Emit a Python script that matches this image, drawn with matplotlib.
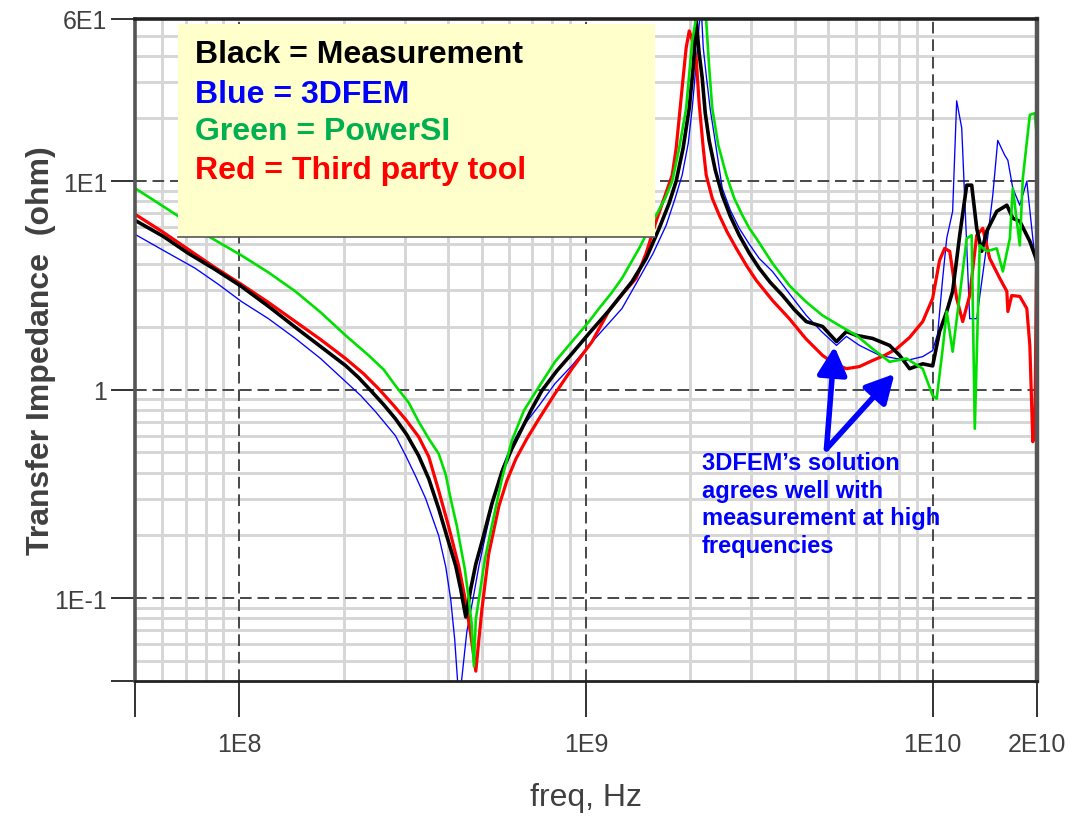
import matplotlib
matplotlib.use("Agg")
import matplotlib.pyplot as plt
from matplotlib.patches import Rectangle
from matplotlib.ticker import FixedLocator, NullFormatter, LogLocator

# ---- data: transfer impedance (ohm) vs frequency (Hz) ----
black_f = [5.0e7, 6.03e7, 7.12e7, 8.41e7, 1.013e8, 1.213e8, 1.451e8, 1.715e8, 2.025e8, 2.208e8,
           2.41e8, 2.608e8, 2.82e8, 3.04e8, 3.29e8, 3.52e8, 3.76e8, 3.99e8, 4.21e8, 4.35e8,
           4.50e8, 4.65e8, 4.81e8, 5.01e8, 5.35e8, 5.72e8, 6.11e8, 6.53e8, 6.98e8, 7.46e8,
           8.25e8, 9.11e8, 1.02e9, 1.166e9, 1.358e9, 1.491e9, 1.626e9, 1.737e9, 1.82e9, 1.906e9,
           1.985e9, 2.038e9, 2.08e9, 2.12e9, 2.164e9, 2.208e9, 2.267e9, 2.36e9, 2.472e9, 2.608e9,
           2.768e9, 2.96e9, 3.16e9, 3.40e9, 3.69e9, 3.99e9, 4.32e9, 4.81e9, 5.28e9, 5.64e9,
           6.03e9, 6.71e9, 7.51e9, 8.03e9, 8.58e9, 9.36e9, 1.0e10, 1.047e10, 1.098e10, 1.142e10,
           1.197e10, 1.254e10, 1.296e10, 1.34e10, 1.385e10, 1.432e10, 1.531e10, 1.637e10, 1.703e10, 1.784e10,
           1.907e10, 2.0e10]
black_z = [6.49, 5.44, 4.51, 3.82, 3.13, 2.51, 1.99, 1.61, 1.304, 1.142,
           0.978, 0.847, 0.725, 0.608, 0.482, 0.373, 0.268, 0.192, 0.1425, 0.1105,
           0.0811, 0.1105, 0.1457, 0.186, 0.283, 0.403, 0.520, 0.649, 0.810, 0.989,
           1.234, 1.49, 1.86, 2.40, 3.30, 4.26, 5.94, 7.84, 10.0, 14.4,
           22.4, 34.9, 58.8, 41.2, 31.3, 21.2, 15.6, 11.3, 8.57, 6.79,
           5.5, 4.51, 3.82, 3.27, 2.83, 2.42, 2.12, 2.01, 1.70, 1.90,
           1.82, 1.76, 1.63, 1.46, 1.26, 1.33, 1.30, 1.90, 2.37, 2.96,
           5.5, 9.57, 9.57, 5.94, 4.61, 5.75, 7.17, 7.67, 6.64, 6.42,
           5.15, 4.12]

blue_f = [5.0e7, 6.03e7, 7.46e7, 8.70e7, 1.013e8, 1.213e8, 1.451e8, 1.715e8, 2.025e8, 2.24e8,
          2.47e8, 2.64e8, 2.82e8, 3.02e8, 3.23e8, 3.45e8, 3.76e8, 3.94e8, 4.07e8, 4.18e8,
          4.27e8, 4.32e8, 4.38e8, 4.53e8, 4.72e8, 4.91e8, 5.14e8, 5.42e8, 5.72e8, 6.03e8,
          6.40e8, 6.84e8, 7.32e8, 8.14e8, 9.11e8, 1.02e9, 1.142e9, 1.27e9, 1.423e9, 1.562e9,
          1.703e9, 1.808e9, 1.894e9, 1.972e9, 2.025e9, 2.08e9, 2.12e9, 2.15e9, 2.179e9, 2.222e9,
          2.28e9, 2.375e9, 2.472e9, 2.608e9, 2.768e9, 2.96e9, 3.16e9, 3.45e9, 3.86e9, 4.32e9,
          4.78e9, 5.28e9, 5.64e9, 6.15e9, 7.03e9, 8.41e9, 9.36e9, 1.0e10, 1.034e10, 1.069e10,
          1.098e10, 1.142e10, 1.173e10, 1.213e10, 1.254e10, 1.279e10, 1.34e10, 1.432e10, 1.491e10, 1.541e10,
          1.615e10, 1.648e10, 1.703e10, 1.784e10, 1.869e10, 1.945e10, 2.0e10]
blue_z = [5.56, 4.66, 3.82, 3.20, 2.65, 2.19, 1.76, 1.41, 1.093, 0.936,
          0.784, 0.686, 0.601, 0.482, 0.382, 0.299, 0.199, 0.141, 0.0989, 0.0635,
          0.038, 0.0327, 0.0408, 0.0687, 0.0989, 0.1425, 0.203, 0.299, 0.417, 0.520,
          0.628, 0.725, 0.838, 1.069, 1.304, 1.63, 2.01, 2.45, 3.42, 4.51,
          6.14, 8.28, 10.7, 15.2, 22.4, 36.9, 56.2, 67.9, 43.6, 32.3,
          22.4, 14.4, 9.25, 7.26, 5.94, 4.98, 4.26, 3.69, 2.89, 2.27,
          1.90, 1.63, 1.80, 1.63, 1.46, 1.38, 1.44, 1.54, 1.86, 3.42,
          5.32, 7.17, 24.3, 18.0, 4.92, 2.19, 2.19, 4.92, 8.57, 15.7,
          13.3, 12.6, 9.25, 7.67, 10.0, 5.32, 3.53]

green_f = [5.0e7, 5.84e7, 6.88e7, 8.14e7, 1.013e8, 1.213e8, 1.451e8, 1.715e8, 2.025e8, 2.36e8,
           2.608e8, 2.82e8, 3.08e8, 3.29e8, 3.52e8, 3.76e8, 3.94e8, 4.07e8, 4.24e8, 4.35e8,
           4.47e8, 4.59e8, 4.68e8, 4.75e8, 4.81e8, 4.91e8, 5.11e8, 5.35e8, 5.72e8, 6.11e8,
           6.62e8, 7.32e8, 8.14e8, 9.11e8, 1.02e9, 1.09e9, 1.181e9, 1.27e9, 1.423e9, 1.593e9,
           1.692e9, 1.773e9, 1.857e9, 1.945e9, 2.025e9, 2.15e9, 2.222e9, 2.267e9, 2.313e9, 2.407e9,
           2.54e9, 2.677e9, 2.825e9, 2.96e9, 3.10e9, 3.45e9, 3.86e9, 4.30e9, 4.81e9, 5.38e9,
           6.03e9, 6.71e9, 7.51e9, 8.41e9, 9.36e9, 1.0e10, 1.027e10, 1.069e10, 1.098e10, 1.142e10,
           1.197e10, 1.254e10, 1.296e10, 1.323e10, 1.367e10, 1.432e10, 1.531e10, 1.594e10, 1.67e10, 1.703e10,
           1.784e10, 1.82e10, 1.907e10, 1.971e10, 2.0e10]
green_z = [9.25, 7.84, 6.57, 5.44, 4.41, 3.65, 2.96, 2.35, 1.82, 1.46,
           1.248, 1.045, 0.866, 0.702, 0.581, 0.492, 0.390, 0.299, 0.222, 0.176,
           0.138, 0.0989, 0.075, 0.0471, 0.0793, 0.0989, 0.154, 0.222, 0.373, 0.569,
           0.793, 1.034, 1.36, 1.70, 2.12, 2.45, 2.89, 3.42, 4.76, 6.86,
           8.28, 10.0, 14.4, 22.4, 47.1, 84.7, 58.8, 34.9, 22.4, 14.9,
           10.7, 8.28, 6.86, 5.94, 5.32, 4.04, 3.16, 2.65, 2.27, 2.03,
           1.82, 1.57, 1.36, 1.41, 1.26, 0.936, 0.905, 1.57, 2.37, 1.52,
           2.83, 5.32, 5.5, 0.649, 4.92, 4.61, 4.76, 3.69, 5.32, 9.25,
           4.92, 10.3, 20.8, 21.2, 16.1]

red_f = [5.0e7, 6.03e7, 7.12e7, 8.41e7, 1.013e8, 1.213e8, 1.451e8, 1.715e8, 2.025e8, 2.28e8,
         2.52e8, 2.79e8, 3.02e8, 3.29e8, 3.52e8, 3.76e8, 4.02e8, 4.30e8, 4.47e8, 4.65e8,
         4.81e8, 4.91e8, 5.01e8, 5.24e8, 5.61e8, 5.91e8, 6.28e8, 6.75e8, 7.32e8, 8.14e8,
         9.11e8, 1.041e9, 1.166e9, 1.27e9, 1.395e9, 1.491e9, 1.593e9, 1.68e9, 1.773e9, 1.82e9,
         1.857e9, 1.906e9, 1.945e9, 1.985e9, 2.025e9, 2.08e9, 2.12e9, 2.179e9, 2.222e9, 2.313e9,
         2.424e9, 2.556e9, 2.714e9, 2.90e9, 3.10e9, 3.45e9, 3.86e9, 4.30e9, 4.81e9, 5.21e9,
         5.64e9, 6.15e9, 6.71e9, 7.27e9, 7.87e9, 8.58e9, 9.36e9, 1.0e10, 1.047e10, 1.083e10,
         1.12e10, 1.173e10, 1.221e10, 1.279e10, 1.34e10, 1.395e10, 1.461e10, 1.562e10, 1.637e10, 1.648e10,
         1.691e10, 1.784e10, 1.869e10, 1.907e10, 1.945e10, 1.971e10, 2.0e10]
red_z = [6.94, 5.69, 4.71, 3.90, 3.20, 2.62, 2.12, 1.74, 1.41, 1.194,
         1.011, 0.838, 0.718, 0.594, 0.476, 0.327, 0.219, 0.141, 0.101, 0.0671,
         0.0446, 0.0635, 0.0885, 0.163, 0.277, 0.365, 0.466, 0.581, 0.725, 0.957,
         1.26, 1.70, 2.40, 2.86, 3.42, 4.51, 6.42, 8.28, 10.7, 14.4,
         20.1, 31.3, 43.6, 52.6, 47.6, 38.2, 23.7, 14.4, 10.7, 8.28,
         6.86, 5.69, 4.76, 3.95, 3.34, 2.68, 2.19, 1.76, 1.46, 1.33,
         1.26, 1.29, 1.38, 1.46, 1.57, 1.78, 2.12, 2.74, 4.17, 4.76,
         4.61, 2.74, 2.12, 2.83, 5.5, 5.94, 4.26, 3.42, 2.96, 2.37,
         2.83, 2.80, 2.45, 1.63, 0.562, 0.65, 6.42]

x_ticks = [5e7, 1e8, 1e9, 1e10, 2e10]
x_ticklabels = ["", "1E8", "1E9", "1E10", "2E10"]
y_ticks = [0.04, 0.1, 1, 10, 60]
y_ticklabels = ["", "1E-1", "1", "1E1", "6E1"]

legend_lines = [("Black = Measurement", "#000000"),
                ("Blue = 3DFEM", "#0000FF"),
                ("Green = PowerSI", "#00B050"),
                ("Red = Third party tool", "#FF0000")]
note_text = "3DFEM\u2019s solution\nagrees well with\nmeasurement at high\nfrequencies"
note_tail = (4.94e9, 0.52)
note_tips = [(5.21e9, 1.61), (7.76e9, 1.19)]

# ---- figure ----
fig = plt.figure(figsize=(10.84, 8.20), dpi=100)
ax = fig.add_axes([135 / 1084, 1 - 682 / 820, 902 / 1084, 662 / 820])
ax.set_xscale("log")
ax.set_yscale("log")
ax.set_xlim(5e7, 2e10)
ax.set_ylim(0.04, 60)

# grid: thick light minor lines with a dotted core, dashed dark decade lines
ax.xaxis.set_minor_locator(LogLocator(base=10, subs=range(2, 10), numticks=50))
ax.yaxis.set_minor_locator(LogLocator(base=10, subs=range(2, 10), numticks=50))
ax.xaxis.set_minor_formatter(NullFormatter())
ax.yaxis.set_minor_formatter(NullFormatter())
ax.tick_params(which="minor", length=0)
ax.grid(which="minor", color="#d6d6d6", lw=2.1, ls="-", zorder=0)
for v in ax.xaxis.get_minorticklocs():
    if 5e7 < v < 2e10:
        ax.axvline(v, color="#b4b4b4", lw=0.7, ls=(0, (1.5, 1.5)), zorder=0.5)
for v in ax.yaxis.get_minorticklocs():
    if 0.04 < v < 60:
        ax.axhline(v, color="#b4b4b4", lw=0.7, ls=(0, (1.5, 1.5)), zorder=0.5)
for v in [1e8, 1e9, 1e10]:
    ax.axvline(v, color="#484848", lw=1.4, ls=(0, (6, 3)), zorder=0.8)
for v in [0.1, 1, 10]:
    ax.axhline(v, color="#484848", lw=1.4, ls=(0, (6, 3)), zorder=0.8)
ax.set_axisbelow(True)

# curves
ax.plot(blue_f, blue_z, color="#0000FF", lw=0.95, zorder=2)
ax.plot(red_f, red_z, color="#FF0000", lw=2.3, zorder=3)
ax.plot(black_f, black_z, color="#000000", lw=2.6, zorder=4)
ax.plot(green_f, green_z, color="#00E000", lw=1.9, zorder=5)

# ticks
ax.xaxis.set_major_locator(FixedLocator(x_ticks))
ax.set_xticklabels(x_ticklabels)
ax.yaxis.set_major_locator(FixedLocator(y_ticks))
ax.set_yticklabels(y_ticklabels)
ax.tick_params(axis="x", which="major", direction="out", length=26, width=1.3,
               color="#222222", pad=11, labelsize=18, labelcolor="#404040")
ax.tick_params(axis="y", which="major", direction="out", length=17, width=1.3,
               color="#222222", pad=3, labelsize=18, labelcolor="#404040")
for lab in ax.get_xticklabels() + ax.get_yticklabels():
    lab.set_fontfamily("Liberation Sans")

for side, c, w in [("left", "#555555", 2.6), ("top", "#222222", 2.6),
                   ("right", "#555555", 3.2), ("bottom", "#222222", 2.0)]:
    ax.spines[side].set_color(c)
    ax.spines[side].set_linewidth(w)
    ax.spines[side].set_zorder(10)

ax.set_xlabel("freq, Hz", fontsize=23, color="#404040", family="Liberation Sans")
ax.xaxis.set_label_coords(0.5, -0.152)
ax.xaxis.label.set_va("top")
ax.set_ylabel("Transfer Impedance  (ohm)", fontsize=23, fontweight="bold",
              color="#404040", family="Liberation Sans")
ax.yaxis.set_label_coords(-0.088, 0.50)

# legend panel
ax.add_patch(Rectangle((0.0477, 0.6707), 0.5288, 0.3217, transform=ax.transAxes,
                       facecolor="#FFFFCC", edgecolor="none", zorder=8))
ax.plot([0.0477, 0.5765], [0.6707, 0.6707], transform=ax.transAxes,
        color="#555555", lw=1.2, zorder=8.5)
legend_y = [0.947, 0.887, 0.831, 0.772]
for (txt, col), yy in zip(legend_lines, legend_y):
    ax.text(0.0665, yy, txt, transform=ax.transAxes, color=col, fontsize=23,
            fontweight="bold", family="Liberation Sans", va="center", ha="left", zorder=9)

# annotation with arrows
ax.text(0.6286, 0.347, note_text, transform=ax.transAxes, color="#0000FF",
        fontsize=17, fontweight="bold", family="Liberation Sans", va="top", ha="left",
        linespacing=1.25, zorder=9)
for tip in note_tips:
    ax.annotate("", xy=tip, xytext=note_tail,
                arrowprops=dict(arrowstyle="-|>,head_length=0.85,head_width=0.45",
                                color="#0000FF", lw=4, mutation_scale=20,
                                shrinkA=0, shrinkB=0),
                zorder=9)

fig.savefig("out.png", dpi=100)
